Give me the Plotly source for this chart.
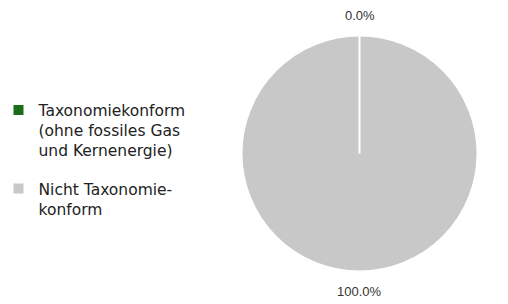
import math
import plotly.graph_objects as go

categories = ["Taxonomiekonform<br>(ohne fossiles Gas<br>und Kernenergie)", "Nicht Taxonomie-<br>konform"]
values = [0.0, 100.0]
colors = ["#1a6e1a", "#c8c8c8"]

W, H = 508, 304
# pie geometry (pixels)
CX, CY, R = 359.5, 153.5, 118.0
LABEL_OFF = 20.0

dom_x = [(CX - R) / W, (CX + R) / W]
dom_y = [(H - CY - R) / H, (H - CY + R) / H]

fig = go.Figure()
fig.add_trace(go.Pie(
    labels=categories, values=values,
    marker=dict(colors=colors, line=dict(color="white", width=2)),
    sort=False, direction="clockwise", rotation=0,
    textinfo="none", showlegend=False, hoverinfo="skip",
    domain=dict(x=dom_x, y=dom_y),
))

# percent labels, placed outside at each slice's mid-angle
total = sum(values)
cum = 0.0
for v in values:
    mid = (cum + v / 2) / total * 2 * math.pi
    cum += v
    px = CX + (R + LABEL_OFF) * math.sin(mid)
    py = CY - (R + LABEL_OFF) * math.cos(mid)
    fig.add_annotation(x=px / W, y=1 - py / H, xref="paper", yref="paper",
                       text=f"{v / total * 100:.1f}%", showarrow=False,
                       xanchor="center", yanchor="middle",
                       font=dict(family="Liberation Sans, Arial", size=13, color="#333333"))

# slice boundary line at the start angle (white separator)
fig.add_shape(type="line", xref="paper", yref="paper",
              x0=CX / W, y0=1 - CY / H, x1=CX / W, y1=1 - (CY - R) / H,
              line=dict(color="white", width=2))

for i, (name, c) in enumerate(zip(categories, colors)):
    fig.add_trace(go.Scatter(x=[None], y=[None], mode="markers", name=name,
                             legendgroup=f"g{i}",
                             marker=dict(symbol="square", size=10, color=c)))
fig.update_layout(
    width=W, height=H,
    margin=dict(l=0, r=0, t=0, b=0, autoexpand=False),
    paper_bgcolor="white", plot_bgcolor="white",
    xaxis=dict(visible=False), yaxis=dict(visible=False),
    font=dict(family="DejaVu Sans", size=15, color="#222222"),
    legend=dict(x=-1.5 / W, y=1 - 93.5 / H, yanchor="top", xanchor="left",
                valign="top", tracegroupgap=15, itemclick=False,
                font=dict(family="DejaVu Sans", size=15.5, color="#222222")),
)
fig.write_html("out.html", config={"displayModeBar": False},
               post_script="document.body.style.margin='0';")
